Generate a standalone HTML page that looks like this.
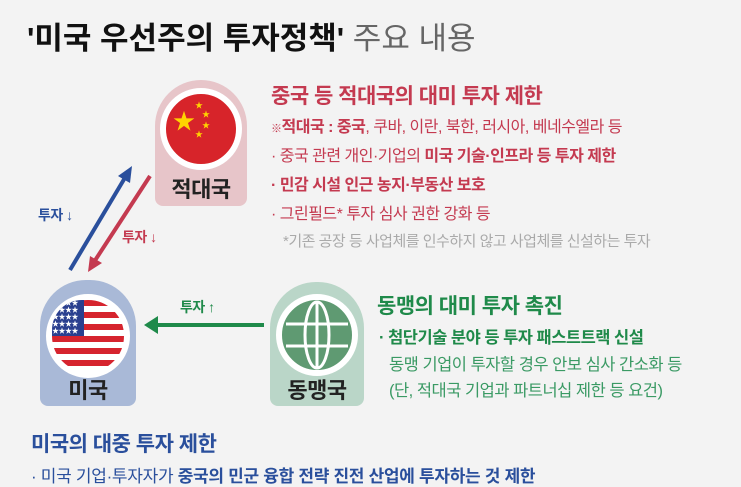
<!DOCTYPE html>
<html><head><meta charset="utf-8"><style>
body{margin:0;width:741px;height:486px;background:#f3f3f3;font-family:"Liberation Sans","Noto Sans CJK KR",sans-serif;position:relative;overflow:hidden;letter-spacing:-0.5px}
.a{position:absolute;white-space:nowrap}
.b{font-weight:bold}
.badge{position:absolute;border-radius:46px 46px 8px 8px}
.circ{position:absolute;border-radius:50%;border:6px solid #fff;overflow:hidden}
.lab{position:absolute;width:100%;text-align:center;font-size:22px;font-weight:bold;color:#222}
</style></head><body>
<div class="a" style="left:27px;top:13px;font-size:31px;color:#111;letter-spacing:0"><span class="b">'미국 우선주의 투자정책'</span> <span style="color:#666">주요 내용</span></div>

<div class="badge" style="left:155px;top:80px;width:92px;height:126px;background:#e7c5c9">
 <div class="circ" style="left:5px;top:8px;width:70px;height:70px;background:#d7242a"></div>
 <div class="a" style="left:18px;top:24px;color:#ffd400;font-size:22px">★</div>
 <div class="a" style="left:40px;top:20px;color:#ffd400;font-size:8px">★</div>
 <div class="a" style="left:47px;top:29px;color:#ffd400;font-size:8px">★</div>
 <div class="a" style="left:47px;top:40px;color:#ffd400;font-size:8px">★</div>
 <div class="a" style="left:40px;top:49px;color:#ffd400;font-size:8px">★</div>
 <div class="lab" style="top:92px">적대국</div>
</div>

<div class="badge" style="left:40px;top:280px;width:96px;height:126px;background:#a9b9d7">
 <div class="circ" style="left:6px;top:14px;width:72px;height:72px;background:repeating-linear-gradient(#d6242e 0 6px,#fff 6px 12px)"></div>
 <div class="a" style="left:12px;top:20px;width:32px;height:36px;background:#2a3f8f;border-radius:30px 0 0 0;color:#fff;font-size:7px;line-height:7px;overflow:hidden">★★★★<br>★★★★<br>★★★★<br>★★★★<br>★★★★</div>
 <div class="lab" style="top:93px">미국</div>
</div>

<div class="badge" style="left:270px;top:282px;width:94px;height:124px;background:#bad6c8">
 <div class="circ" style="left:6px;top:12px;width:70px;height:70px;background:#5f9a72"></div>
 <svg class="a" style="left:12px;top:18px" width="70" height="70" viewBox="0 0 70 70"><g fill="none" stroke="#fff" stroke-width="3"><ellipse cx="35" cy="35" rx="12" ry="33"/><line x1="35" y1="2" x2="35" y2="68"/><line x1="4" y1="24" x2="66" y2="24"/><line x1="4" y1="46" x2="66" y2="46"/></g></svg>
 <div class="lab" style="top:91px">동맹국</div>
</div>

<svg class="a" style="left:0;top:0" width="741" height="486">
 <line x1="70" y1="270" x2="126" y2="176" stroke="#2a4f9c" stroke-width="4"/>
 <polygon points="132,166 118,176 130,183" fill="#2a4f9c"/>
 <line x1="150" y1="176" x2="94" y2="262" stroke="#c43a50" stroke-width="4"/>
 <polygon points="88,272 90,256 102,263" fill="#c43a50"/>
 <line x1="264" y1="325" x2="156" y2="325" stroke="#1f8a4a" stroke-width="4"/>
 <polygon points="144,325 158,316 158,334" fill="#1f8a4a"/>
</svg>
<div class="a b" style="left:38px;top:205px;font-size:14px;color:#2a4f9c">투자 ↓</div>
<div class="a b" style="left:122px;top:227px;font-size:14px;color:#c43a50">투자 ↓</div>
<div class="a b" style="left:180px;top:297px;font-size:14px;color:#1f8a4a">투자 ↑</div>

<div style="color:#c43a50">
<div class="a b" style="left:271px;top:80px;font-size:21px">중국 등 적대국의 대미 투자 제한</div>
<div class="a" style="left:271px;top:113px;font-size:16px"><span style="font-size:11px">※</span><b>적대국 : 중국</b>, 쿠바, 이란, 북한, 러시아, 베네수엘라 등</div>
<div class="a" style="left:271px;top:142px;font-size:16px">· 중국 관련 개인·기업의 <b>미국 기술·인프라 등 투자 제한</b></div>
<div class="a b" style="left:271px;top:171px;font-size:16px">· 민감 시설 인근 농지·부동산 보호</div>
<div class="a" style="left:271px;top:200px;font-size:16px">· 그린필드* 투자 심사 권한 강화 등</div>
<div class="a" style="left:283px;top:230px;font-size:15px;color:#aaa">*기존 공장 등 사업체를 인수하지 않고 사업체를 신설하는 투자</div>
</div>

<div style="color:#1f8a4a">
<div class="a b" style="left:377px;top:290px;font-size:21px">동맹의 대미 투자 촉진</div>
<div class="a b" style="left:379px;top:324px;font-size:16.5px">· 첨단기술 분야 등 투자 패스트트랙 신설</div>
<div class="a" style="left:389px;top:351px;font-size:16.5px;color:#3a9a64">동맹 기업이 투자할 경우 안보 심사 간소화 등</div>
<div class="a" style="left:389px;top:377px;font-size:16.5px;color:#3a9a64">(단, 적대국 기업과 파트너십 제한 등 요건)</div>
</div>

<div style="color:#2a4f9c">
<div class="a b" style="left:31px;top:428px;font-size:21px">미국의 대중 투자 제한</div>
<div class="a" style="left:31px;top:462px;font-size:17px;letter-spacing:-0.3px">· 미국 기업·투자자가 <b>중국의 민군 융합 전략 진전 산업에 투자하는 것 제한</b></div>
</div>
</body></html>
